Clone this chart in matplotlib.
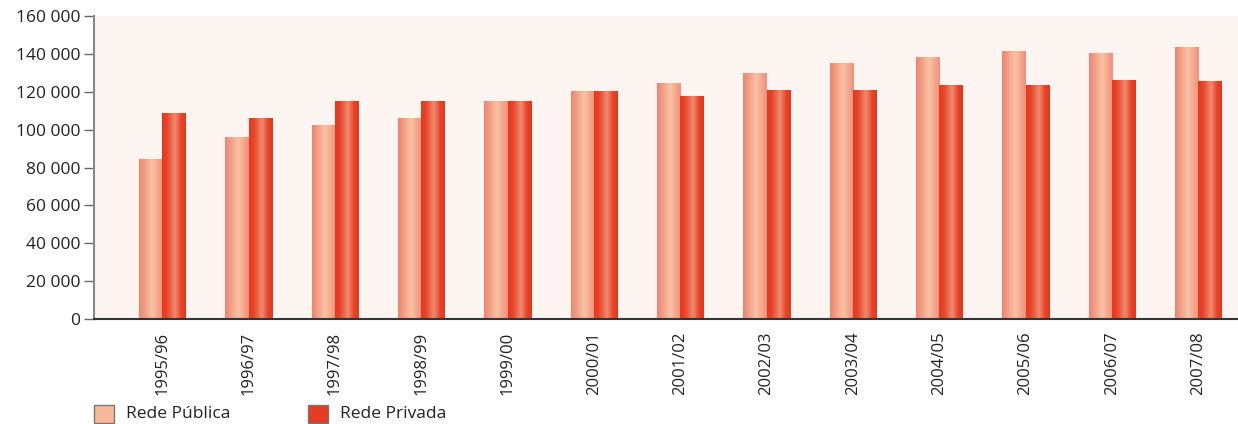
import matplotlib
matplotlib.use("Agg")
import matplotlib.pyplot as plt
import matplotlib.patches as mpatches
from matplotlib.colors import LinearSegmentedColormap
from matplotlib.ticker import FuncFormatter
import numpy as np

plt.rcParams['font.family'] = ['Open Sans', 'DejaVu Sans']

anos = ['1995/96', '1996/97', '1997/98', '1998/99', '1999/00', '2000/01', '2001/02',
        '2002/03', '2003/04', '2004/05', '2005/06', '2006/07', '2007/08']
publica = [84000, 96000, 102000, 106000, 115000, 120000, 124500,
           129500, 135000, 138000, 141000, 140000, 143500]
privada = [108500, 106000, 115000, 115000, 115000, 120000, 117500,
           120500, 120500, 123500, 123500, 126000, 125500]

cmap_pub = LinearSegmentedColormap.from_list(
    'pub', [(0, '#ee8472'), (0.55, '#f9c3a3'), (1, '#f08f7c')])
cmap_priv = LinearSegmentedColormap.from_list(
    'priv', [(0, '#e53a20'), (0.2, '#e7442a'), (0.55, '#f08b71'), (0.8, '#e74428'), (1, '#e4381e')])

fig = plt.figure(figsize=(12.38, 4.24), dpi=100)
ax = fig.add_axes([0.0759, 0.2476, 0.9241, 0.7147])
ax.set_facecolor('#fdf5f2')

w = 0.27
grad = np.linspace(0, 1, 64).reshape(1, -1)
x = np.arange(len(anos))
for i in x:
    for val, x0, cm in [(publica[i], i - w, cmap_pub), (privada[i], i, cmap_priv)]:
        ax.imshow(grad, extent=[x0, x0 + w, 0, val], aspect='auto', cmap=cm, zorder=2)

ax.set_xlim(-0.79, 12.46)
ax.set_ylim(0, 160000)
ax.set_yticks(np.arange(0, 160001, 20000))
ax.yaxis.set_major_formatter(FuncFormatter(lambda v, p: f"{int(v):,}".replace(',', ' ')))
ax.set_xticks(x)
ax.set_xticklabels(anos, rotation=90, va='top', ha='center')
ax.tick_params(axis='x', length=0, pad=9, labelsize=12, colors='#222222')
ax.tick_params(axis='y', length=7, width=1, color='#666666', labelsize=12.5,
               labelcolor='#222222', pad=3)

for s in ['top', 'right']:
    ax.spines[s].set_visible(False)
ax.spines['left'].set_color('#888888')
ax.spines['left'].set_linewidth(1.5)
ax.spines['bottom'].set_color('#333333')
ax.spines['bottom'].set_linewidth(1.5)

# legenda
W, H = 1238, 424
for lx, cor, txt in [(94, '#f8b89a', 'Rede Pública'), (308, '#e63a22', 'Rede Privada')]:
    fig.add_artist(mpatches.Rectangle((lx / W, (H - 423) / H), 20 / W, 18 / H,
                                      facecolor=cor, edgecolor='#777777', lw=1,
                                      transform=fig.transFigure))
    fig.text((lx + 32) / W, (H - 414) / H, txt, fontsize=12.5, va='center',
             color='#222222')

fig.savefig('out.png', dpi=100)
